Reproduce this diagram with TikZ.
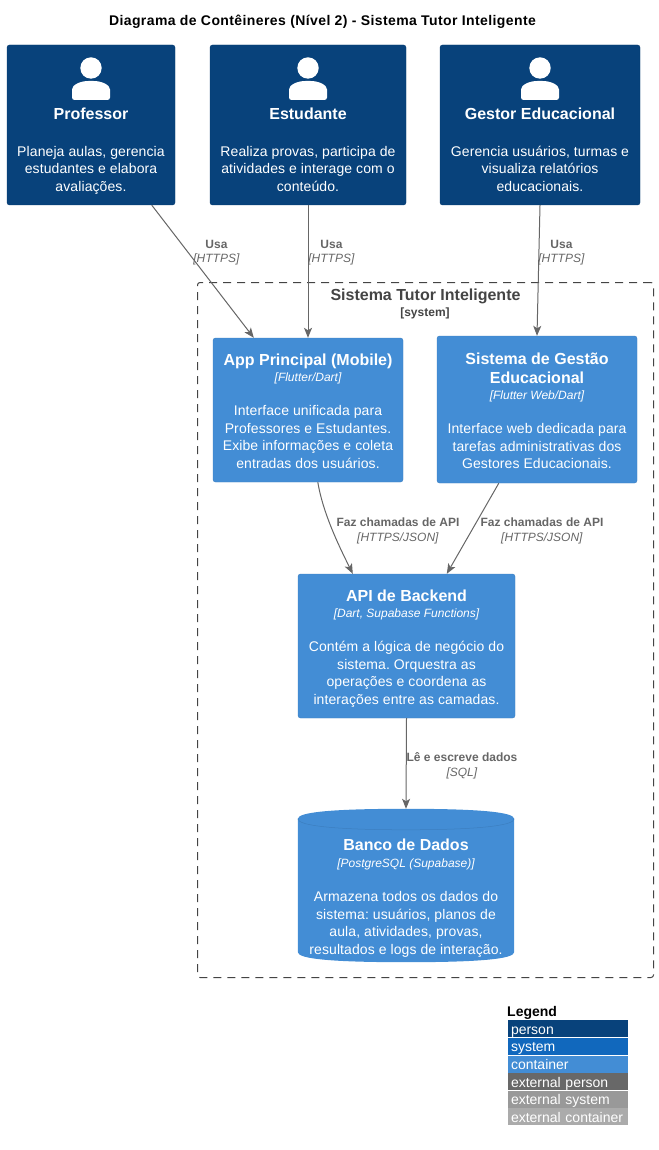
\documentclass[tikz,border=0pt]{standalone}
\usepackage{fontspec}
\setmainfont{Liberation Sans}
\usepackage{xcolor}
\usetikzlibrary{arrows.meta,positioning,calc,backgrounds}
\AtBeginDocument{\frenchspacing}
\definecolor{personblue}{HTML}{08427B}
\definecolor{personedge}{HTML}{073B6F}
\definecolor{systemblue}{HTML}{1168BD}
\definecolor{contblue}{HTML}{438DD5}
\definecolor{contedge}{HTML}{3C7FC0}
\definecolor{relgray}{HTML}{666666}
\definecolor{boundgray}{HTML}{444444}
\definecolor{extperson}{HTML}{686868}
\definecolor{extsystem}{HTML}{999999}
\definecolor{extcont}{HTML}{ABABAB}
\newcommand{\boxname}[1]{{\bfseries\fontsize{16}{17.5}\selectfont\addfontfeature{LetterSpace=0} #1}}
\newcommand{\boxtech}[1]{{\itshape\fontsize{12}{17.5}\selectfont\addfontfeature{LetterSpace=0} [#1]}}
\newcommand{\boxend}{\rule[-4pt]{0pt}{4pt}}
\newcommand{\personicon}[1]{%
    \fill[white] (#1,68) circle (10.7);
    \fill[white, rounded corners=2.5] ($(#1,100)+(-19,0)$) -- ($(#1,100)+(-19,-8)$)
        .. controls ($(#1,100)+(-19,-15)$) and ($(#1,100)+(-11,-19)$) .. ($(#1,100)+(0,-19)$)
        .. controls ($(#1,100)+(11,-19)$) and ($(#1,100)+(19,-15)$) .. ($(#1,100)+(19,-8)$)
        -- ($(#1,100)+(19,0)$) -- cycle;
}
\tikzset{
    personbox/.style={draw=personedge, fill=personblue, rounded corners=2.5pt,
                      text=white, align=center, inner sep=0pt,
                      minimum width=#1, minimum height=160pt,
                      font=\fontsize{14}{17.5}\selectfont\addfontfeature{LetterSpace=0.7}},
    contbox/.style={draw=contedge, fill=contblue, rounded corners=2.5pt,
                    text=white, align=center, inner sep=0pt,
                    minimum width=#1, font=\fontsize{14}{17.5}\selectfont\addfontfeature{LetterSpace=0.7}},
    rlabel/.style={text=relgray, align=center, inner sep=0pt,
                   font=\fontsize{12}{14.7}\selectfont},
    legrow/.style={fill=#1, text=white, anchor=west, inner sep=0pt, outer sep=0pt,
                   minimum width=120pt, minimum height=17pt, align=left,
                   text width=114pt, text height=13pt, text depth=2pt,
                   font=\fontsize{14}{14}\selectfont},
}
\begin{document}
\begin{tikzpicture}[
    x=1pt, y=-1pt,
    rel/.style={-{Stealth[length=10pt,width=8pt,inset=2.5pt]}, draw=relgray, line width=1pt}
]
    \useasboundingbox (0,0) rectangle (658,1150);
    \node[font=\bfseries\fontsize{14}{17}\selectfont\addfontfeature{LetterSpace=2.9}, inner sep=0pt] (title) at (322.5,21.5)
        {Diagrama de Contêineres (Nível 2) - Sistema Tutor Inteligente};
    % boundary
    \node[draw=boundgray, dash pattern=on 8pt off 6pt, rounded corners=2.5pt, line width=1pt,
          minimum width=456pt, minimum height=695pt, inner sep=0pt] (bound) at (425.5,630) {};
    \node[text=boundgray, align=center, inner sep=0pt, font=\bfseries\fontsize{16}{17}\selectfont] (boundname) at (425.5,296)
        {Sistema Tutor Inteligente};
    \node[text=boundgray, inner sep=0pt, font=\bfseries\fontsize{12}{14}\selectfont] (boundtag) at (425,313)
        {[system]};
    % people
    \node[personbox=168pt] (prof) at (91,125)
        {\rule{0pt}{65pt}\boxname{Professor}\\[19pt]
         Planeja aulas, gerencia\\estudantes e elabora\\avaliações.\boxend};
    \node[personbox=196pt] (estud) at (308,125)
        {\rule{0pt}{65pt}\boxname{Estudante}\\[19pt]
         Realiza provas, participa de\\atividades e interage com o\\conteúdo.\boxend};
    \node[personbox=200pt] (gestor) at (540,125)
        {\rule{0pt}{65pt}\boxname{Gestor Educacional}\\[19pt]
         Gerencia usuários, turmas e\\visualiza relatórios\\educacionais.\boxend};
    \personicon{91}
    \personicon{308}
    \personicon{540}
    % containers
    \node[contbox=190pt, minimum height=144pt] (app) at (308,410)
        {\rule{0pt}{18pt}\boxname{App Principal (Mobile)}\\[-2pt]\boxtech{Flutter/Dart}\\[17pt]
         Interface unificada para\\Professores e Estudantes.\\Exibe informações e coleta\\entradas dos usuários.\boxend};
    \node[contbox=200pt, minimum height=147pt] (gestao) at (537,409.5)
        {\rule{0pt}{18pt}\boxname{Sistema de Gestão}\\[2pt]\boxname{Educacional}\\[-2pt]\boxtech{Flutter Web/Dart}\\[17pt]
         Interface web dedicada para\\tarefas administrativas dos\\Gestores Educacionais.\boxend};
    \node[contbox=217pt, minimum height=144pt] (api) at (406.5,646)
        {\rule{0pt}{18pt}\boxname{API de Backend}\\[-2pt]\boxtech{Dart, Supabase Functions}\\[17pt]
         Contém a lógica de negócio do\\sistema. Orquestra as\\operações e coordena as\\interações entre as camadas.\boxend};
    \node[text=white, align=center, inner sep=0pt, minimum width=216pt, minimum height=153pt,
          font=\fontsize{14}{17.5}\selectfont\addfontfeature{LetterSpace=0.7}] (db) at (406,885.5)
        {\rule{0pt}{38pt}\boxname{Banco de Dados}\\[-1pt]\boxtech{PostgreSQL (Supabase)}\\[17pt]
         Armazena todos os dados do\\sistema: usuários, planos de\\aula, atividades, provas,\\resultados e logs de interação.\boxend};
    \begin{scope}[on background layer]
        \fill[contblue] (db.north west) ++(0,10)
            .. controls ($(db.north west)+(0,3)$) and ($(db.north)+(-70,0)$) .. (db.north)
            .. controls ($(db.north)+(70,0)$) and ($(db.north east)+(0,3)$) .. ($(db.north east)+(0,10)$)
            -- ($(db.south east)+(0,-10)$)
            .. controls ($(db.south east)+(0,-3)$) and ($(db.south)+(70,0)$) .. (db.south)
            .. controls ($(db.south)+(-70,0)$) and ($(db.south west)+(0,-3)$) .. ($(db.south west)+(0,-10)$)
            -- cycle;
        \draw[contedge, line width=0.5pt] ($(db.north west)+(0,10)$)
            .. controls ($(db.north west)+(0,17)$) and ($(db.north)+(-70,21)$) .. ($(db.north)+(0,21)$)
            .. controls ($(db.north)+(70,21)$) and ($(db.north east)+(0,17)$) .. ($(db.north east)+(0,10)$);
    \end{scope}
    % connectors
    \draw[rel] ($(prof.south west)+(145,0)$) -- ($(app.north west)+(41,0)$);
    \draw[rel] (estud.south) -- (app.north);
    \draw[rel] (gestor.south) -- (gestao.north);
    \draw[rel] ($(app.south west)+(105,0)$) .. controls ($(app.south west)+(110,30)$) and ($(api.north west)+(40,-30)$) .. ($(api.north west)+(55,0)$);
    \draw[rel] ($(gestao.south west)+(62,0)$) -- ($(api.north west)+(149,0)$);
    \draw[rel] (api.south) -- (db.north);
    % labels
    \node[rlabel] (usaprof) at (216.5,252.5) {\textbf{Usa}\\\textit{[HTTPS]}};
    \node[rlabel] (usaestud) at (331.5,252.5) {\textbf{Usa}\\\textit{[HTTPS]}};
    \node[rlabel] (usagestor) at (561.5,252.5) {\textbf{Usa}\\\textit{[HTTPS]}};
    \node[rlabel] (callapp) at (398,531) {\textbf{Faz chamadas de API}\\\textit{[HTTPS/JSON]}};
    \node[rlabel] (callgestao) at (542,531) {\textbf{Faz chamadas de API}\\\textit{[HTTPS/JSON]}};
    \node[rlabel] (sqlrel) at (462,766) {\textbf{Lê e escreve dados}\\\textit{[SQL]}};
    % legend
    \node[font=\bfseries\fontsize{14}{14}\selectfont, anchor=west, inner sep=0pt] (legtitle) at (507,1013) {Legend};
    \node[legrow=personblue] (legperson) at (508,1028.5) {person};
    \node[legrow=systemblue] (legsystem) at (508,1046) {system};
    \node[legrow=contblue] (legcont) at (508,1064) {container};
    \node[legrow=extperson] (legextp) at (508,1081.5) {external person};
    \node[legrow=extsystem] (legexts) at (508,1099) {external system};
    \node[legrow=extcont] (legextc) at (508,1116.5) {external container};
\end{tikzpicture}
\end{document}
